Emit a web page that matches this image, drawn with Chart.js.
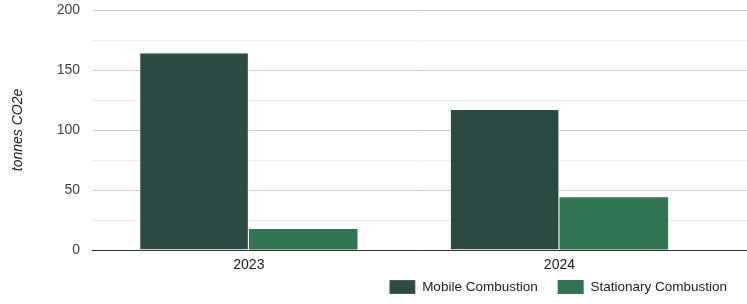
<!DOCTYPE html>
<html>
<head>
<meta charset="utf-8">
<script src="https://cdn.jsdelivr.net/npm/chart.js@4"></script>
<style>
  html, body { margin: 0; padding: 0; background: #fff; }
  #wrap { width: 747px; height: 304px; position: relative; }
</style>
</head>
<body>
<div id="wrap"><canvas id="chart"></canvas></div>
<script>
// data
const years = ['2023', '2024'];
const mobileCombustion = [164, 116.7];
const stationaryCombustion = [17.5, 44];
const yTicks = [0, 50, 100, 150, 200];

// bars sit on a linear x axis so the plot can run past the last group like the original
const toPoints = vals => vals.map((v, i) => ({ x: i, y: v }));

const font = { family: 'Liberation Sans, Arial', size: 14 };

new Chart(document.getElementById('chart'), {
    type: 'bar',
    data: {
        datasets: [
            {
                label: 'Mobile Combustion',
                data: toPoints(mobileCombustion),
                backgroundColor: '#2d4b45',
                borderColor: '#ffffff',
                borderWidth: { left: 0, right: 1, top: 0, bottom: 0 }
            },
            {
                label: 'Stationary Combustion',
                data: toPoints(stationaryCombustion),
                backgroundColor: '#327453',
                borderWidth: 0
            }
        ]
    },
    options: {
        responsive: true,
        maintainAspectRatio: false,
        animation: false,
        layout: { padding: 0 },
        categoryPercentage: 0.7,
        barPercentage: 1.0,
        plugins: {
            tooltip: { enabled: false },
            legend: {
                position: 'bottom',
                align: 'end',
                labels: {
                    boxWidth: 26,
                    boxHeight: 14,
                    padding: 20,
                    color: '#222',
                    font: { family: 'Liberation Sans, Arial', size: 13.5 }
                }
            }
        },
        scales: {
            x: {
                type: 'linear',
                min: -0.505,
                max: 1.604,
                offset: false,
                grid: { display: false },
                border: { display: false },
                afterBuildTicks: axis => {
                    axis.ticks = years.map((y, i) => ({ value: i }));
                },
                // keep the axis box thin so the legend can sit close, labels hang below it
                afterFit: axis => { axis.height = 10; },
                ticks: {
                    mirror: true,
                    padding: -24,
                    color: '#222',
                    font: font,
                    callback: v => years[v] ?? ''
                }
            },
            y: {
                min: 0,
                max: 200,
                afterFit: axis => {
                    axis.width = 92;
                    axis.paddingTop = 10;
                    axis.paddingBottom = 0;
                },
                grid: {
                    color: ctx => {
                        const v = ctx.tick.value;
                        if (v === 0) return '#333333';
                        return v % 50 === 0 ? '#cccccc' : '#ebebeb';
                    },
                    lineWidth: 1,
                    drawTicks: false
                },
                border: { display: false },
                ticks: {
                    stepSize: 25,
                    padding: 12,
                    color: '#444',
                    font: font,
                    callback: v => yTicks.includes(v) ? v : ''
                },
                title: {
                    display: true,
                    text: 'tonnes CO2e',
                    color: '#222',
                    font: { family: 'Liberation Sans, Arial', size: 14, style: 'italic' },
                    padding: { top: 10, bottom: 0 }
                }
            }
        }
    }
});
</script>
</body>
</html>
